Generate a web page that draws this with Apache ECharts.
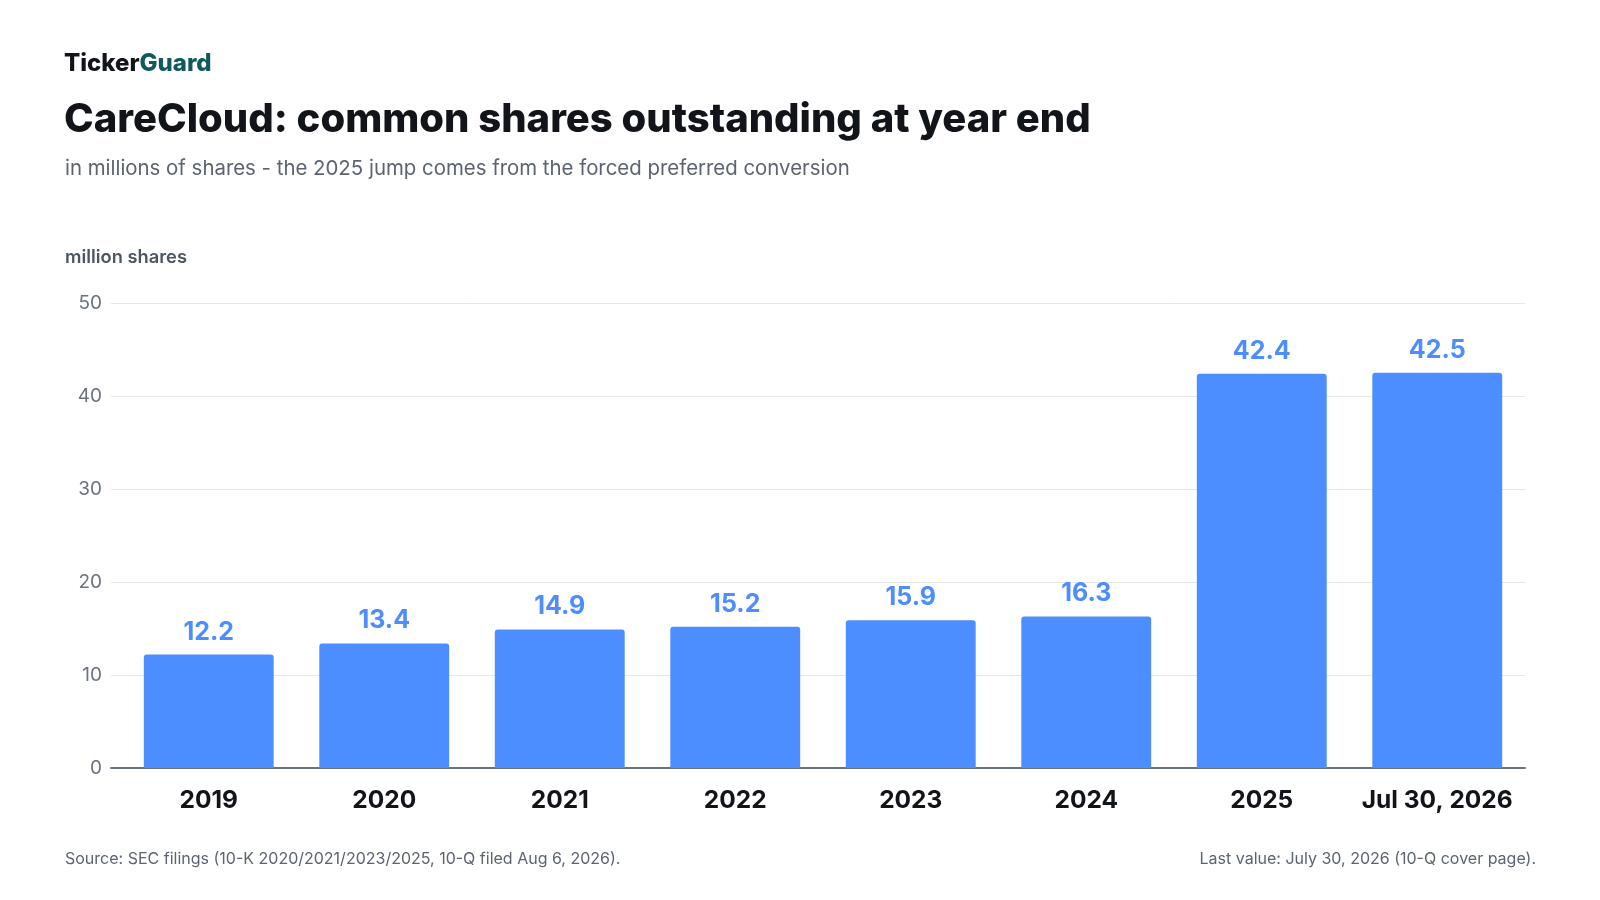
<!DOCTYPE html>
<html>
<head>
<meta charset="utf-8">
<script src="https://cdn.jsdelivr.net/npm/echarts@6/dist/echarts.min.js"></script>
<style>
  html, body { margin: 0; padding: 0; background: #fff; }
  #chart { width: 1600px; height: 900px; }
</style>
</head>
<body>
<div id="chart"></div>
<script>
// data
const categories = ['2019', '2020', '2021', '2022', '2023', '2024', '2025', 'Jul 30, 2026']
const sharesMillions = [12.2, 13.4, 14.9, 15.2, 15.9, 16.3, 42.4, 42.5]
const yTicks = { min: 0, max: 50, interval: 10 }

const FONT = 'Inter, "Noto Sans", sans-serif'
const BLUE = '#4c8dff'

const chart = echarts.init(document.getElementById('chart'))

// grid 0 carries the gridlines, y labels and baseline; grid 1 (a bit narrower on the left) carries the bars
chart.setOption({
  backgroundColor: '#ffffff',
  textStyle: { fontFamily: FONT },
  title: [
    {
      text: '{a|Ticker}{b|Guard}',
      left: 59, top: 47,
      textStyle: {
        rich: {
          a: { fontFamily: FONT, fontSize: 24, fontWeight: 800, color: '#111418' },
          b: { fontFamily: FONT, fontSize: 24, fontWeight: 800, color: '#0f5a5c' }
        }
      }
    },
    {
      text: 'CareCloud: common shares outstanding at year end',
      left: 59, top: 95,
      textStyle: { fontFamily: FONT, fontSize: 40, fontWeight: 800, color: '#111418' }
    },
    {
      text: 'in millions of shares - the 2025 jump comes from the forced preferred conversion',
      left: 60, top: 154,
      textStyle: { fontFamily: FONT, fontSize: 20.4, fontWeight: 400, color: '#5b6470' }
    },
    {
      text: 'million shares',
      left: 60, top: 244,
      textStyle: { fontFamily: FONT, fontSize: 18.3, fontWeight: 600, color: '#4b5563' }
    },
    {
      text: 'Source: SEC filings (10-K 2020/2021/2023/2025, 10-Q filed Aug 6, 2026).',
      left: 60, top: 846,
      textStyle: { fontFamily: FONT, fontSize: 16, fontWeight: 400, color: '#5b6470' }
    },
    {
      text: 'Last value: July 30, 2026 (10-Q cover page).',
      right: 59, top: 846,
      textStyle: { fontFamily: FONT, fontSize: 16, fontWeight: 400, color: '#5b6470' }
    }
  ],
  grid: [
    { left: 111, right: 75, top: 303, bottom: 132, containLabel: false },
    { left: 121, right: 75, top: 303, bottom: 132, containLabel: false }
  ],
  xAxis: [
    {
      type: 'value', gridIndex: 0, min: 0, max: 1,
      axisLine: { show: true, onZero: false, lineStyle: { color: '#6b7280', width: 2 } },
      axisTick: { show: false },
      axisLabel: { show: false },
      splitLine: { show: false }
    },
    {
      type: 'category', gridIndex: 1,
      data: categories,
      axisLine: { show: false },
      axisTick: { show: false },
      axisLabel: {
        interval: 0,
        margin: 20,
        fontFamily: FONT, fontSize: 24.5, fontWeight: 700, color: '#111418'
      }
    }
  ],
  yAxis: [
    {
      type: 'value', gridIndex: 0,
      min: yTicks.min, max: yTicks.max, interval: yTicks.interval,
      axisLine: { show: false },
      axisTick: { show: false },
      splitLine: { lineStyle: { color: '#e5e7eb', width: 1 } },
      axisLabel: {
        margin: 9,
        fontFamily: FONT, fontSize: 19, fontWeight: 400, color: '#6b7280'
      }
    },
    {
      type: 'value', gridIndex: 1,
      min: yTicks.min, max: yTicks.max, interval: yTicks.interval,
      show: false
    }
  ],
  series: [
    {
      type: 'bar',
      xAxisIndex: 1, yAxisIndex: 1,
      data: sharesMillions,
      barWidth: '74%',
      itemStyle: { color: BLUE, borderRadius: [3, 3, 0, 0] },
      label: {
        show: true,
        position: 'top',
        distance: 10,
        formatter: p => p.value.toFixed(1),
        fontFamily: FONT, fontSize: 25, fontWeight: 700, color: BLUE
      },
      silent: true,
      z: 1
    }
  ],
  animation: false
})
</script>
</body>
</html>
